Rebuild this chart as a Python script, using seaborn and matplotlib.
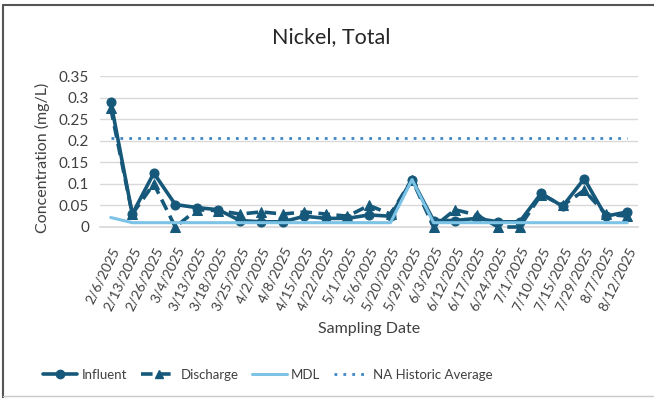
import matplotlib
matplotlib.use("Agg")
import matplotlib.pyplot as plt
from matplotlib.lines import Line2D
import seaborn as sns
import pandas as pd

sns.set_theme(style="white")
plt.rcParams["font.family"] = ["Lato", "DejaVu Sans"]

dates = ["2/6/2025", "2/13/2025", "2/26/2025", "3/4/2025", "3/13/2025",
         "3/18/2025", "3/25/2025", "4/2/2025", "4/8/2025", "4/15/2025",
         "4/22/2025", "5/1/2025", "5/6/2025", "5/20/2025", "5/29/2025",
         "6/3/2025", "6/12/2025", "6/17/2025", "6/24/2025", "7/1/2025",
         "7/10/2025", "7/15/2025", "7/29/2025", "8/7/2025", "8/12/2025"]

influent = [0.29, 0.03, 0.125, 0.052, 0.045, 0.04, 0.015, 0.012, 0.012, 0.025,
            0.02, 0.02, 0.028, 0.025, 0.11, 0.015, 0.015, 0.02, 0.012, 0.012,
            0.078, 0.048, 0.112, 0.025, 0.035]
discharge = [0.275, 0.03, 0.1, 0.0, 0.04, 0.038, 0.03, 0.035, 0.03, 0.035,
             0.03, 0.025, 0.05, 0.03, 0.11, 0.0, 0.04, 0.028, 0.0, 0.0,
             0.075, 0.05, 0.085, 0.03, 0.025]
mdl = [0.022, 0.01, 0.01, 0.01, 0.01, 0.01, 0.01, 0.01, 0.01, 0.01,
       0.01, 0.01, 0.01, 0.01, 0.11, 0.01, 0.01, 0.01, 0.01, 0.01,
       0.01, 0.01, 0.01, 0.01, 0.01]
historic_avg = [0.207] * len(dates)

yticks = [0, 0.05, 0.1, 0.15, 0.2, 0.25, 0.3, 0.35]
ytick_labels = ["0", "0.05", "0.1", "0.15", "0.2", "0.25", "0.3", "0.35"]

df = pd.DataFrame({"Date": dates, "Influent": influent, "Discharge": discharge,
                   "MDL": mdl, "NA Historic Average": historic_avg})

dark = "#16587A"
light = "#7CC3E6"
dotted = "#3F86C6"

fig = plt.figure(figsize=(6.54, 3.98), dpi=100)
ax = fig.add_axes([100 / 654, 1 - 227 / 398, 538 / 654, 151 / 398])

sns.lineplot(data=df, x="Date", y="Influent", ax=ax, color=dark, lw=2.6,
             marker="o", markersize=6.5, markeredgecolor=dark, sort=False,
             clip_on=False, zorder=3)
sns.lineplot(data=df, x="Date", y="Discharge", ax=ax, color=dark, lw=2.6,
             marker="^", markersize=6.5, markeredgecolor=dark, sort=False,
             dashes=False, clip_on=False, zorder=3)
ax.lines[-1].set_linestyle((0, (3.2, 1.8)))
sns.lineplot(data=df, x="Date", y="MDL", ax=ax, color=light, lw=2.2,
             sort=False, clip_on=False, zorder=4)
sns.lineplot(data=df, x="Date", y="NA Historic Average", ax=ax, color=dotted,
             lw=2.0, sort=False, zorder=4)
ax.lines[-1].set_linestyle((0, (1, 2.2)))

ax.set_xlim(-0.5, len(dates) - 0.5)
ax.set_ylim(0, 0.35)
ax.set_yticks(yticks)
ax.set_yticklabels(ytick_labels, fontsize=11, color="#404040")
ax.set_xticks(range(len(dates)))
ax.set_xticklabels(dates, rotation=64, ha="right", rotation_mode="anchor",
                   fontsize=10, color="#404040")
ax.tick_params(axis="x", pad=13, length=0)
ax.tick_params(axis="y", pad=8, length=0)
ax.grid(axis="y", color="#D9D9D9", lw=1)
ax.set_axisbelow(True)
for s in ["top", "right", "left"]:
    ax.spines[s].set_visible(False)
ax.spines["bottom"].set_color("#D9D9D9")

ax.set_xlabel("Sampling Date", fontsize=11.5, color="#404040", labelpad=7)
ax.set_ylabel("Concentration (mg/L)", fontsize=11.5, color="#404040")
ax.yaxis.set_label_coords(-0.093, 0.46)

fig.text(0.507, 1 - 37 / 398, "Nickel, Total", ha="center", va="center",
         fontsize=15.5, color="#262626")

handles = [
    Line2D([], [], color=dark, lw=2.6, marker="o", markersize=6),
    Line2D([], [], color=dark, lw=2.6, marker="^", markersize=6,
           linestyle=(0, (3.2, 1.8))),
    Line2D([], [], color=light, lw=2.2),
    Line2D([], [], color=dotted, lw=2.0, linestyle=(0, (1, 2.2))),
]
fig.legend(handles, ["Influent", "Discharge", "MDL", "NA Historic Average"],
           loc="center", bbox_to_anchor=(268 / 654, 1 - 375 / 398), ncol=4,
           frameon=False, fontsize=9.5, handlelength=2.6, columnspacing=1.05,
           handletextpad=0.35, labelcolor="#404040")

# outer chart frame
fig.add_artist(Line2D([3 / 654, 3 / 654], [0, 1 - 5 / 398], color="#555555",
                      lw=1.5, transform=fig.transFigure))
fig.add_artist(Line2D([3 / 654, 1], [1 - 5 / 398, 1 - 5 / 398], color="#555555",
                      lw=1.5, transform=fig.transFigure))
fig.add_artist(Line2D([3 / 654, 1], [2 / 398, 2 / 398], color="#C8C8C8",
                      lw=1, transform=fig.transFigure))

ax.legend_ = None
fig.savefig("out.png", dpi=100, facecolor="white")
